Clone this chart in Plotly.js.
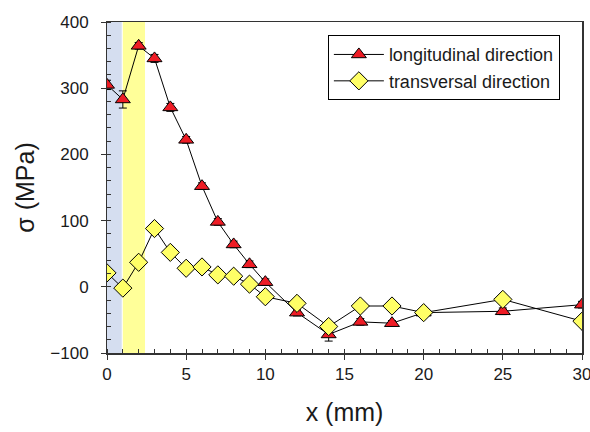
<!DOCTYPE html>
<html>
<head>
<meta charset="utf-8">
<script src="https://cdn.plot.ly/plotly-3.0.1.min.js"></script>
<style>html,body{margin:0;padding:0;background:#fff;}#chart{width:590px;height:432px;}</style>
</head>
<body>
<div id="chart"></div>
<script>
const xVals = [0, 1, 2, 3, 4, 5, 6, 7, 8, 9, 10, 12, 14, 16, 18, 20, 25, 30];
const longitudinal = [305, 283, 364, 345, 271, 222, 152, 98, 64, 34, 7, -39, -72, -53, -55, -39, -37, -27];
const longitudinalErr = [7, 13, 5, 6, 6, 5, 5, 5, 5, 5, 5, 5, 10, 5, 4, 4, 5, 5];
const transversal = [21, -2, 37, 88, 52, 28, 30, 18, 16, 4, -15, -25, -60, -29, -29, -39, -19, -52];
const seriesNames = ['longitudinal direction', 'transversal direction'];
const blueZone = [0, 0.93];
const yellowZone = [1.0, 2.4];

const font = 'Liberation Sans, Arial, sans-serif';

const traces = [
  {
    x: xVals, y: longitudinal, name: seriesNames[0], type: 'scatter', mode: 'lines+markers',
    line: {color: '#000', width: 1},
    marker: {symbol: 'triangle-up', size: 13, color: '#ee1c25', line: {color: '#000', width: 1}},
    error_y: {type: 'data', array: longitudinalErr, visible: true, color: '#000', thickness: 1, width: 4}
  },
  {
    x: xVals, y: transversal, name: seriesNames[1], type: 'scatter', mode: 'lines+markers',
    line: {color: '#000', width: 1},
    marker: {symbol: 'diamond', size: 14, color: '#ffff66', line: {color: '#000', width: 1}}
  }
];

const layout = {
  width: 590, height: 432,
  margin: {l: 107, r: 8, t: 22, b: 79},
  paper_bgcolor: '#fff', plot_bgcolor: '#fff',
  font: {family: font, color: '#1a1a1a'},
  showlegend: true,
  legend: {
    x: 0.465, y: 0.96, xanchor: 'left', yanchor: 'top',
    bordercolor: '#000', borderwidth: 1, bgcolor: '#fff',
    itemwidth: 50,
    font: {family: font, size: 18, color: '#1a1a1a'}
  },
  xaxis: {
    range: [0, 30], dtick: 5, tick0: 0, automargin: 'bottom',
    showgrid: false, zeroline: false,
    showline: true, linecolor: '#333', linewidth: 1.5, mirror: true,
    ticks: 'outside', ticklen: 5, tickcolor: '#333',
    ticklabeloverflow: 'allow',
    minor: {dtick: 1, ticks: 'inside', ticklen: 4, tickcolor: '#333', showgrid: false},
    tickfont: {family: font, size: 17, color: '#1a1a1a'},
    title: {text: 'x (mm)', font: {family: font, size: 25, color: '#1a1a1a'}, standoff: 20}
  },
  yaxis: {
    range: [-100, 400], dtick: 100, tick0: 0, automargin: 'left',
    showgrid: false, zeroline: false,
    showline: true, linecolor: '#333', linewidth: 1.5, mirror: true,
    ticks: 'outside', ticklen: 5, tickcolor: '#333',
    ticksuffix: '\u2002',
    minor: {dtick: 20, ticks: 'inside', ticklen: 4, tickcolor: '#333', showgrid: false},
    tickfont: {family: font, size: 17, color: '#1a1a1a'},
    title: {text: 'σ (MPa)', font: {family: font, size: 25, color: '#1a1a1a'}, standoff: 8}
  },
  shapes: [
    {type: 'rect', xref: 'x', yref: 'paper', x0: blueZone[0], x1: blueZone[1], y0: 0, y1: 1,
     fillcolor: '#d5def0', line: {width: 0}, layer: 'below'},
    {type: 'rect', xref: 'x', yref: 'paper', x0: yellowZone[0], x1: yellowZone[1], y0: 0, y1: 1,
     fillcolor: '#ffff99', line: {width: 0}, layer: 'below'}
  ]
};

Plotly.newPlot('chart', traces, layout, {displayModeBar: false, staticPlot: true});
</script>
</body>
</html>
